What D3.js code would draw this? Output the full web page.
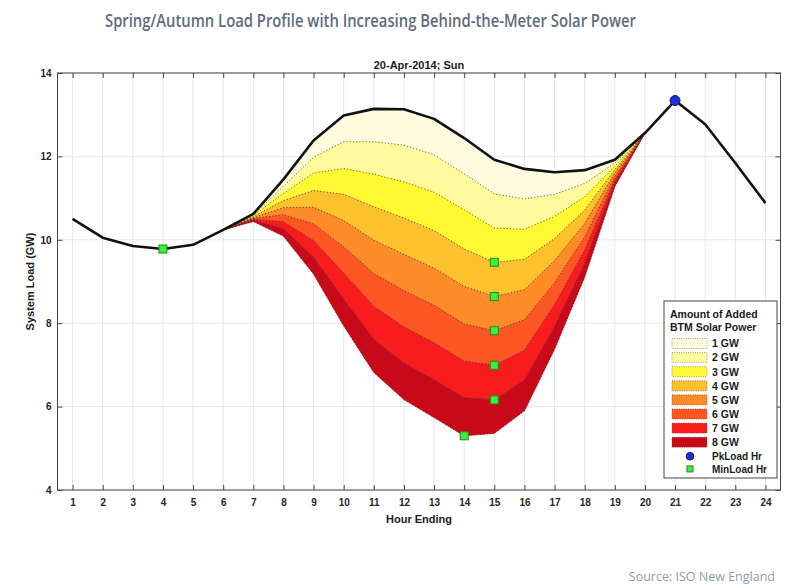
<!DOCTYPE html>
<html>
<head>
<meta charset="utf-8">
<script src="https://cdn.jsdelivr.net/npm/d3@7/dist/d3.min.js"></script>
<style>
  html,body{margin:0;padding:0;background:#fff;}
  svg{display:block;}
</style>
</head>
<body>
<svg id="chart" width="804" height="588"></svg>
<script>
// ---------- DATA ----------
const hours = d3.range(1, 25);
const baseLoad = [10.50, 10.05, 9.85, 9.78, 9.88, 10.24, 10.62, 11.45, 12.38, 12.98, 13.14, 13.13,
                  12.90, 12.44, 11.92, 11.70, 11.62, 11.67, 11.92, 12.56, 13.34, 12.77, 11.84, 10.88];
const solarHours = d3.range(6, 21);
const layer1 = [10.24, 10.60, 11.28, 11.98, 12.35, 12.35, 12.27, 12.04, 11.58, 11.10, 10.98, 11.09, 11.35, 11.84, 12.56];
const layer2 = [10.24, 10.58, 11.11, 11.60, 11.71, 11.57, 11.39, 11.14, 10.72, 10.28, 10.25, 10.56, 11.03, 11.76, 12.56];
const layer3 = [10.24, 10.55, 10.94, 11.18, 11.09, 10.79, 10.52, 10.22, 9.78, 9.46, 9.53, 10.03, 10.71, 11.68, 12.56];
const layer4 = [10.24, 10.53, 10.77, 10.78, 10.46, 9.99, 9.65, 9.32, 8.88, 8.64, 8.80, 9.50, 10.39, 11.60, 12.56];
const layer5 = [10.24, 10.51, 10.60, 10.38, 9.83, 9.19, 8.78, 8.43, 7.98, 7.82, 8.08, 8.97, 10.07, 11.52, 12.56];
const layer6 = [10.24, 10.49, 10.43, 9.98, 9.20, 8.40, 7.91, 7.53, 7.09, 6.99, 7.35, 8.44, 9.75, 11.44, 12.56];
const layer7 = [10.24, 10.47, 10.26, 9.58, 8.57, 7.61, 7.04, 6.64, 6.21, 6.16, 6.63, 7.91, 9.43, 11.36, 12.56];
const layer8 = [10.24, 10.44, 10.09, 9.18, 7.94, 6.82, 6.17, 5.74, 5.30, 5.36, 5.90, 7.38, 9.11, 11.28, 12.56];
const layerLabels = ["1 GW", "2 GW", "3 GW", "4 GW", "5 GW", "6 GW", "7 GW", "8 GW"];
const layerColors = ["#fffbdf", "#fffa9c", "#fff833", "#fec12e", "#fd8b28", "#fc5623", "#f81c1f", "#c8091a"];
const yTicks = [4, 6, 8, 10, 12, 14];

// ---------- SETUP ----------
const svg = d3.select("#chart");
const x = d3.scaleLinear().domain([0.5, 24.5]).range([57.5, 780.5]);
const y = d3.scaleLinear().domain([4, 14]).range([490, 73]);
const [x0, x1] = x.range();
const [yb, yt] = y.range();

svg.append("text")
  .attr("x", 105).attr("y", 27)
  .attr("font-family", "Open Sans, sans-serif").attr("font-weight", 600)
  .attr("font-size", 18).attr("fill", "#5d6d7a")
  .attr("textLength", 531).attr("lengthAdjust", "spacingAndGlyphs")
  .text("Spring/Autumn Load Profile with Increasing Behind-the-Meter Solar Power");

svg.append("text")
  .attr("x", (x0 + x1) / 2).attr("y", 69)
  .attr("text-anchor", "middle")
  .attr("font-family", "Liberation Sans, Arial, sans-serif").attr("font-weight", "bold")
  .attr("font-size", 11).attr("fill", "#1a1a1a")
  .text("20-Apr-2014; Sun");

// gridlines
const grid = svg.append("g").attr("stroke", "#e6e6e6").attr("stroke-width", 1);
hours.forEach(h => grid.append("line").attr("x1", x(h)).attr("x2", x(h)).attr("y1", yt).attr("y2", yb));
yTicks.forEach(v => grid.append("line").attr("x1", x0).attr("x2", x1).attr("y1", y(v)).attr("y2", y(v)));

// layers
const layers = [layer1, layer2, layer3, layer4, layer5, layer6, layer7, layer8];
const baseSolar = solarHours.map(h => baseLoad[h - 1]);
const tops = [baseSolar].concat(layers.slice(0, 7));
const area = d3.area().x(d => x(d.h)).y0(d => y(d.lo)).y1(d => y(d.hi));
layers.forEach((L, i) => {
  const pts = solarHours.map((h, j) => ({h: h, hi: tops[i][j], lo: L[j]}));
  svg.append("path").datum(pts).attr("d", area)
    .attr("fill", layerColors[i]).attr("stroke", layerColors[i]).attr("stroke-width", 0.6);
});
const line = d3.line().x(d => x(d[0])).y(d => y(d[1]));
layers.forEach((L, i) => {
  svg.append("path").datum(solarHours.map((h, j) => [h, L[j]])).attr("d", line)
    .attr("fill", "none").attr("stroke", i < 7 ? "#3a3a3a" : "#7a0a0a")
    .attr("stroke-width", 1).attr("stroke-dasharray", "1.2,2").attr("opacity", i < 2 ? 0.75 : 0.85);
});

// base load line
svg.append("path").datum(hours.map((h, i) => [h, baseLoad[i]])).attr("d", line)
  .attr("fill", "none").attr("stroke", "#111").attr("stroke-width", 2.6)
  .attr("stroke-linejoin", "round");

// markers: min load per series
const series = [baseLoad].concat(layers.map(L => hours.map((h, i) => {
  const j = solarHours.indexOf(h);
  return j >= 0 ? L[j] : baseLoad[i];
})));
const mins = [];
series.forEach(s => {
  const idx = d3.minIndex(s);
  const key = idx + ":" + s[idx];
  if (!mins.find(m => m.key === key)) mins.push({key: key, h: hours[idx], v: s[idx]});
});
svg.append("g").selectAll("rect").data(mins).join("rect")
  .attr("x", d => x(d.h) - 4).attr("y", d => y(d.v) - 4).attr("width", 8).attr("height", 8)
  .attr("fill", "#3bef3b").attr("stroke", "#218a21").attr("stroke-width", 1);
const pk = d3.maxIndex(baseLoad);
svg.append("circle").attr("cx", x(hours[pk])).attr("cy", y(baseLoad[pk])).attr("r", 5)
  .attr("fill", "#1d30d4").attr("stroke", "#0a1570").attr("stroke-width", 1);

// axes
const fontAxis = "Liberation Sans, Arial, sans-serif";
const styleAxis = g => {
  g.select(".domain").remove();
  g.selectAll(".tick line").attr("stroke", "#444");
  g.selectAll("text").attr("font-family", fontAxis).attr("font-weight", "bold")
    .attr("font-size", 10).attr("fill", "#262626");
};
svg.append("g").attr("transform", `translate(0,${yb})`)
  .call(d3.axisBottom(x).tickValues(hours).tickSize(-5).tickSizeOuter(0).tickPadding(9).tickFormat(d3.format("d")))
  .call(styleAxis);
svg.append("g").attr("transform", `translate(0,${yt})`)
  .call(d3.axisTop(x).tickValues(hours).tickSize(-5).tickSizeOuter(0).tickFormat(""))
  .call(styleAxis);
svg.append("g").attr("transform", `translate(${x0},0)`)
  .call(d3.axisLeft(y).tickValues(yTicks).tickSize(-5).tickSizeOuter(0).tickPadding(6).tickFormat(d3.format("d")))
  .call(styleAxis);
svg.append("g").attr("transform", `translate(${x1},0)`)
  .call(d3.axisRight(y).tickValues(yTicks).tickSize(-5).tickSizeOuter(0).tickFormat(""))
  .call(styleAxis);
svg.append("rect").attr("x", x0).attr("y", yt).attr("width", x1 - x0).attr("height", yb - yt)
  .attr("fill", "none").attr("stroke", "#444").attr("stroke-width", 1);

svg.append("text").attr("x", (x0 + x1) / 2).attr("y", 523).attr("text-anchor", "middle")
  .attr("font-family", fontAxis).attr("font-weight", "bold").attr("font-size", 11).attr("fill", "#1a1a1a")
  .text("Hour Ending");
svg.append("text").attr("transform", `translate(34,${(yt + yb) / 2}) rotate(-90)`).attr("text-anchor", "middle")
  .attr("font-family", fontAxis).attr("font-weight", "bold").attr("font-size", 11).attr("fill", "#1a1a1a")
  .text("System Load (GW)");

// legend
const lg = svg.append("g").attr("transform", "translate(664,301)");
lg.append("rect").attr("width", 113).attr("height", 177).attr("fill", "#fff").attr("stroke", "#444").attr("stroke-width", 1);
const lf = {family: fontAxis, size: 10.5};
lg.append("text").attr("x", 6).attr("y", 17).text("Amount of Added");
lg.append("text").attr("x", 6).attr("y", 30).text("BTM Solar Power");
lg.selectAll("text").attr("font-family", lf.family).attr("font-weight", "bold").attr("font-size", 10.5).attr("fill", "#1a1a1a");
layerLabels.forEach((lab, i) => {
  const cy = 42.5 + i * 14.1;
  lg.append("rect").attr("x", 8).attr("y", cy - 5).attr("width", 35).attr("height", 10)
    .attr("fill", layerColors[i]).attr("stroke", i < 3 ? "#8a8a6a" : "#9a4a2a")
    .attr("stroke-width", 0.8).attr("stroke-dasharray", "1,1.3");
  lg.append("text").attr("x", 48).attr("y", cy + 3.8).text(lab)
    .attr("font-family", lf.family).attr("font-weight", "bold").attr("font-size", lf.size).attr("fill", "#1a1a1a");
});
const pky = 42.5 + 8 * 14.1, mny = 42.5 + 9 * 14.1 - 1.5;
lg.append("circle").attr("cx", 26).attr("cy", pky).attr("r", 3.8).attr("fill", "#1d30d4").attr("stroke", "#0a1570");
lg.append("text").attr("x", 48).attr("y", pky + 3.8).text("PkLoad Hr")
  .attr("font-family", lf.family).attr("font-weight", "bold").attr("font-size", 10).attr("fill", "#1a1a1a");
lg.append("rect").attr("x", 23).attr("y", mny - 3).attr("width", 6).attr("height", 6)
  .attr("fill", "#3bef3b").attr("stroke", "#218a21");
lg.append("text").attr("x", 48).attr("y", mny + 3.8).text("MinLoad Hr")
  .attr("font-family", lf.family).attr("font-weight", "bold").attr("font-size", 10).attr("fill", "#1a1a1a");

// source
svg.append("text").attr("x", 775).attr("y", 581).attr("text-anchor", "end")
  .attr("font-family", "Open Sans, sans-serif").attr("font-size", 12.5).attr("fill", "#8d9ea9")
  .text("Source: ISO New England");
</script>
</body>
</html>
